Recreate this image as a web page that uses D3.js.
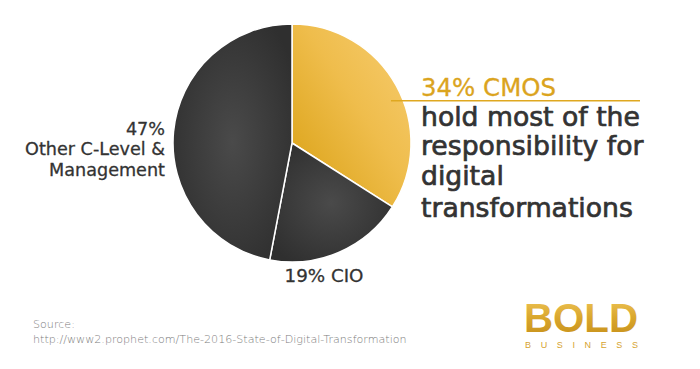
<!DOCTYPE html>
<html><head><meta charset="utf-8">
<script src="https://cdn.jsdelivr.net/npm/d3@7"></script>
<style>html,body{margin:0;padding:0;background:#fff;}svg{display:block;}</style>
</head><body>
<script>
const categories = ["CMOS", "CIO", "Other C-Level & Management"];
const values = [34, 19, 47];
const highlightLabel = "34% CMOS";
const highlightLines = ["hold most of the", "responsibility for", "digital", "transformations"];
const cioLabel = "19% CIO";
const otherLines = ["47%", "Other C-Level &", "Management"];
const sourceLines = ["Source:", "http://www2.prophet.com/The-2016-State-of-Digital-Transformation"];
const logoMain = "BOLD", logoSub = "BUSINESS";

const W = 700, H = 369;
const svg = d3.select("body").append("svg").attr("width", W).attr("height", H);
const defs = svg.append("defs");

const gold = defs.append("linearGradient").attr("id","gold").attr("x1","1").attr("y1","0").attr("x2","0").attr("y2","1");
gold.append("stop").attr("offset","0").attr("stop-color","#f7cd72");
gold.append("stop").attr("offset","0.45").attr("stop-color","#efbd4c");
gold.append("stop").attr("offset","1").attr("stop-color","#d89f10");

const dark = defs.append("radialGradient").attr("id","dark").attr("cx","0.5").attr("cy","0.5").attr("r","0.6");
dark.append("stop").attr("offset","0").attr("stop-color","#4a4a4a");
dark.append("stop").attr("offset","1").attr("stop-color","#2f2f2f");

const logoGrad = defs.append("linearGradient").attr("id","logoGrad").attr("x1","0").attr("y1","0").attr("x2","0").attr("y2","1");
logoGrad.append("stop").attr("offset","0").attr("stop-color","#f0c65a");
logoGrad.append("stop").attr("offset","0.5").attr("stop-color","#d9a62c");
logoGrad.append("stop").attr("offset","1").attr("stop-color","#c48d18");

const cx = 292, cy = 143, R = 119;
const pie = d3.pie().sort(null).value(d => d);
const arc = d3.arc().innerRadius(0).outerRadius(R);
const g = svg.append("g").attr("transform", `translate(${cx},${cy})`);
g.selectAll("path").data(pie(values)).join("path")
  .attr("d", arc)
  .attr("fill", (d,i) => i === 0 ? "url(#gold)" : "url(#dark)")
  .attr("stroke", "#fff").attr("stroke-width", 1.5).attr("stroke-linejoin","round");

const FONT = "'DejaVu Sans', sans-serif";
function fit(sel, target) {
  const fs = parseFloat(sel.attr("font-size"));
  const w = sel.node().getComputedTextLength();
  sel.attr("font-size", (fs * target / w).toFixed(2));
  return sel;
}
function embolden(sel, color, w) {
  return sel.attr("stroke", color).attr("stroke-width", w).attr("stroke-linejoin", "round");
}

// Highlight label
embolden(fit(svg.append("text").attr("x", 421).attr("y", 96).attr("font-family", FONT)
  .attr("font-size", 22).attr("fill", "#dba41e").text(highlightLabel), 135), "#dba41e", 0.3);
svg.append("line").attr("x1", 391).attr("x2", 640).attr("y1", 100.8).attr("y2", 100.8)
  .attr("stroke", "#dfa820").attr("stroke-width", 1.6);

const hlY = [126, 155, 185, 217];
const hlTexts = highlightLines.map((t, i) => embolden(svg.append("text").attr("x", 421).attr("y", hlY[i])
  .attr("font-family", FONT).attr("font-size", 24).attr("fill", "#333").text(t), "#333", 0.7));
fit(hlTexts[0], 219);
hlTexts.forEach(s => s.attr("font-size", hlTexts[0].attr("font-size")));

// CIO label
embolden(fit(svg.append("text").attr("x", 324).attr("y", 281.5).attr("text-anchor","middle").attr("font-family", FONT)
  .attr("font-size", 17).attr("fill", "#333").text(cioLabel), 79), "#333", 0.3);

// Other label
const oY = [135, 155, 176];
const oTexts = otherLines.map((t, i) => embolden(svg.append("text").attr("x", 165).attr("y", oY[i]).attr("text-anchor","end")
  .attr("font-family", FONT).attr("font-size", 17).attr("fill", "#333").text(t), "#333", 0.3));
fit(oTexts[1], 140);
oTexts.forEach(s => s.attr("font-size", oTexts[1].attr("font-size")));

// Source
const sY = [328, 343];
const sTexts = sourceLines.map((t, i) => svg.append("text").attr("x", 33).attr("y", sY[i])
  .attr("font-family", "'DejaVu Sans', sans-serif").attr("font-weight", 200).attr("font-size", 12)
  .attr("fill", "#7d7d7d").text(t));
fit(sTexts[1], 374);
sTexts.forEach(s => s.attr("font-size", sTexts[1].attr("font-size")));

// Logo
fit(svg.append("text").attr("x", 524).attr("y", 331.5).attr("font-family", "'Liberation Sans', Arial, sans-serif")
  .attr("font-weight", 700).attr("font-size", 33).attr("fill", "url(#logoGrad)").text(logoMain), 114);
const subT = svg.append("text").attr("x", 525).attr("y", 347.5).attr("font-family", "'Liberation Sans', Arial, sans-serif")
  .attr("font-size", 9).attr("fill", "#d6a330").text(logoSub);
const natural = subT.node().getComputedTextLength();
subT.attr("letter-spacing", ((113 - natural) / (logoSub.length - 1)).toFixed(2));
</script>
</body></html>
